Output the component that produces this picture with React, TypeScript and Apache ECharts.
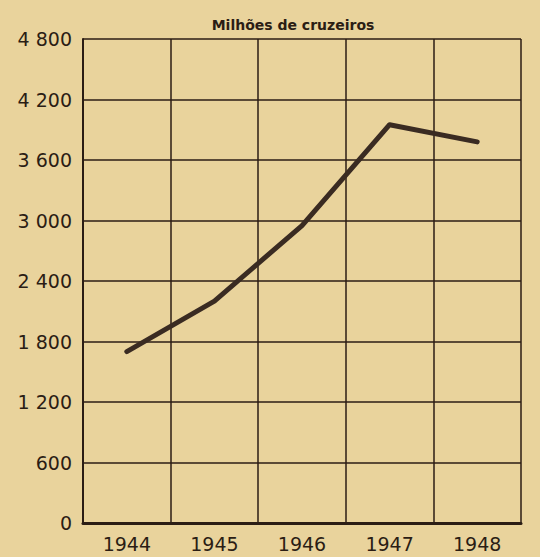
import React, { useEffect, useRef } from "react";
import * as echarts from "echarts";

const years = ["1944", "1945", "1946", "1947", "1948"];
const values = [1700, 2200, 2950, 3950, 3780];
const yTicks = { min: 0, max: 4800, interval: 600 };
const title = "Milhões de cruzeiros";

const ink = "#2b1d14";
const bg = "#e9d39c";

export default function App() {
  const ref = useRef<HTMLDivElement>(null);
  useEffect(() => {
    if (!ref.current) return;
    const chart = echarts.init(ref.current, undefined, { renderer: "svg" });
    chart.setOption({
      animation: false,
      backgroundColor: bg,
      title: {
        text: title,
        left: 288,
        textAlign: "center",
        top: 13,
        textStyle: { fontFamily: "DejaVu Sans", fontSize: 14, fontWeight: "bold", color: ink },
      },
      grid: { left: 83, right: 19, top: 39, bottom: 34 },
      xAxis: {
        type: "category",
        data: years,
        boundaryGap: true,
        axisLine: { show: true, lineStyle: { color: ink, width: 3 } },
        axisTick: { show: false },
        axisLabel: { color: ink, fontFamily: "DejaVu Sans", fontSize: 19, margin: 11 },
        splitLine: { show: true, lineStyle: { color: ink, width: 1.5 } },
      },
      yAxis: {
        type: "value",
        min: yTicks.min,
        max: yTicks.max,
        interval: yTicks.interval,
        axisLine: { show: true, lineStyle: { color: ink, width: 2 } },
        axisTick: { show: false },
        axisLabel: {
          color: ink,
          fontFamily: "DejaVu Sans",
          fontSize: 19,
          margin: 11,
          formatter: (v: number) => String(v).replace(/\B(?=(\d{3})+(?!\d))/g, " "),
        },
        splitLine: { show: true, lineStyle: { color: ink, width: 1.5 } },
      },
      series: [
        {
          type: "line",
          data: values,
          symbol: "none",
          lineStyle: { color: "#3a2b22", width: 5, cap: "round", join: "round" },
        },
      ],
    });
    return () => chart.dispose();
  }, []);
  return <div ref={ref} style={{ position: "fixed", left: 0, top: 0, width: 540, height: 557 }} />;
}
